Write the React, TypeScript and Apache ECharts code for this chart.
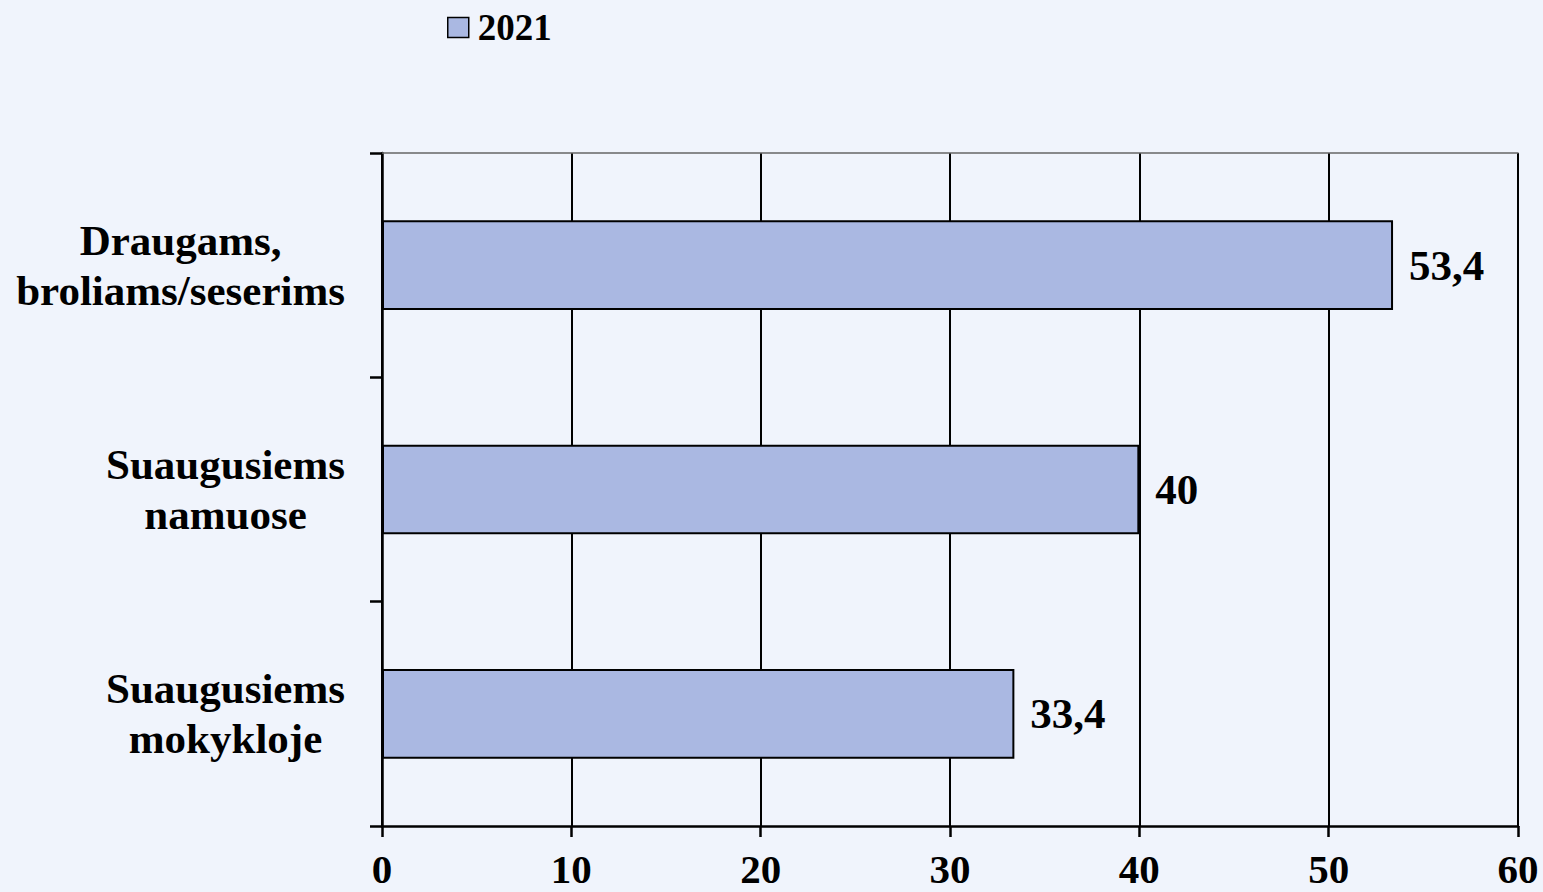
import React, { useEffect, useRef } from "react";
import * as echarts from "echarts";

const categories: string[][] = [
  ["Draugams,", "broliams/seserims"],
  ["Suaugusiems", "namuose"],
  ["Suaugusiems", "mokykloje"],
];
const values2021: number[] = [53.4, 40, 33.4];
const seriesName = "2021";
const xMin = 0;
const xMax = 60;
const xInterval = 10;

const FONT = '"Liberation Serif", "Times New Roman", serif';
const FS = 43;

export default function App() {
  const ref = useRef<HTMLDivElement>(null);
  useEffect(() => {
    if (!ref.current) return;
    const chart = echarts.init(ref.current, undefined, { renderer: "svg" });
    chart.setOption({
      animation: false,
      backgroundColor: "#F0F4FC",
      textStyle: { fontFamily: FONT },
      legend: {
        left: 447,
        top: 9,
        padding: 0,
        icon: "rect",
        itemWidth: 21,
        itemHeight: 20,
        itemStyle: { borderColor: "#000", borderWidth: 1.5 },
        textStyle: {
          fontFamily: FONT,
          fontWeight: "bold",
          fontSize: 37,
          color: "#000",
          padding: [0, 0, 0, 4],
        },
        data: [seriesName],
      },
      grid: {
        left: 382,
        right: 25,
        top: 153,
        bottom: 66,
        containLabel: false,
        outerBoundsMode: "none",
      },
      xAxis: [
        {
          type: "value",
          min: xMin,
          max: xMax,
          interval: xInterval,
          position: "bottom",
          axisLine: { show: true, lineStyle: { color: "#000", width: 2.5 } },
          axisTick: { show: true, length: 11, lineStyle: { color: "#000", width: 2.5 } },
          splitLine: { show: true, lineStyle: { color: "#000", width: 2 } },
          axisLabel: {
            margin: 26,
            fontFamily: FONT,
            fontWeight: "bold",
            fontSize: 41,
            lineHeight: 34,
            color: "#000",
          },
        },
        {
          type: "value",
          min: xMin,
          max: xMax,
          interval: xInterval,
          position: "top",
          axisLine: { show: true, lineStyle: { color: "#666", width: 1.5 } },
          axisTick: { show: false },
          splitLine: { show: false },
          axisLabel: { show: false },
        },
      ],
      yAxis: {
        type: "category",
        inverse: true,
        data: categories.map((c) => c.join("\n")),
        axisLine: { show: true, lineStyle: { color: "#000", width: 2.5 } },
        axisTick: { show: true, length: 12, lineStyle: { color: "#000", width: 2.5 } },
        splitLine: { show: false },
        axisLabel: {
          margin: 37,
          fontFamily: FONT,
          fontWeight: "bold",
          fontSize: FS,
          color: "#000",
          lineHeight: 50,
          formatter: (v: string) =>
            v
              .split("\n")
              .map((l) => `{a|${l}}`)
              .join("\n"),
          rich: {
            a: {
              align: "center",
              fontFamily: FONT,
              fontWeight: "bold",
              fontSize: FS,
              color: "#000",
              lineHeight: 50,
            },
          },
        },
      },
      series: [
        {
          name: seriesName,
          type: "bar",
          xAxisIndex: 0,
          data: values2021,
          barWidth: "40%",
          itemStyle: { color: "#AAB8E2", borderColor: "#000", borderWidth: 2 },
          label: {
            show: true,
            position: "right",
            distance: 16,
            fontFamily: FONT,
            fontWeight: "bold",
            fontSize: FS,
            color: "#000",
            formatter: (p: any) => String(p.value).replace(".", ","),
          },
        },
      ],
    });
    return () => chart.dispose();
  }, []);
  return <div ref={ref} style={{ width: 1543, height: 892, position: "fixed", left: 0, top: 0 }} />;
}
